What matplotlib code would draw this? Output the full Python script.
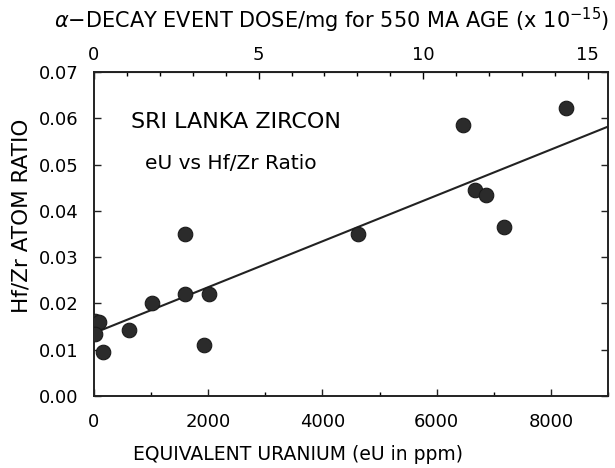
import matplotlib
matplotlib.use("Agg")
import matplotlib.pyplot as plt
from matplotlib.ticker import MultipleLocator

# Data
eU_ppm = [20, 80, 10, 150, 610, 1010, 1590, 1600, 2020, 1930, 4620, 6460, 6670, 6860, 7180, 8260]
hf_zr = [0.0162, 0.0160, 0.0133, 0.0095, 0.0143, 0.0201, 0.0220, 0.0350, 0.0220, 0.0110,
         0.0349, 0.0585, 0.0446, 0.0435, 0.0366, 0.0623]
fit_x = [0, 9000]
fit_y = [0.0136, 0.0582]
x_ticks = [0, 2000, 4000, 6000, 8000]
y_ticks = [0.00, 0.01, 0.02, 0.03, 0.04, 0.05, 0.06, 0.07]
top_ticks = [0, 5, 10, 15]
dose_per_ppm = 15 / 8646.0

plt.rcParams['font.family'] = ['DejaVu Sans']
fig = plt.figure(figsize=(6.15, 4.68), dpi=100)
ax = fig.add_axes([94 / 615, 72 / 468, 514 / 615, 324 / 468])

ax.plot(fit_x, fit_y, color='#222222', lw=1.5, zorder=2)
ax.scatter(eU_ppm, hf_zr, s=110, color='#2b2b2b', edgecolors='#1a1a1a', linewidths=0.8, zorder=3)

ax.set_xlim(0, 9000)
ax.set_ylim(0, 0.07)
ax.set_xticks(x_ticks)
ax.set_yticks(y_ticks)
ax.set_yticklabels([f"{v:.2f}" for v in y_ticks])
ax.xaxis.set_minor_locator(MultipleLocator(1000))
ax.tick_params(axis='both', which='major', direction='in', length=5, width=1, labelsize=13,
               top=False, right=True, color='#222222')
ax.tick_params(axis='x', which='minor', direction='in', length=3, width=1, top=False)
ax.tick_params(axis='x', pad=12)
ax.tick_params(axis='y', pad=11)
for s in ax.spines.values():
    s.set_linewidth(1.4)
    s.set_color('#222222')

sec = ax.secondary_xaxis('top', functions=(lambda x: x * dose_per_ppm, lambda d: d / dose_per_ppm))
sec.set_xticks(top_ticks)
sec.xaxis.set_minor_locator(MultipleLocator(1))
sec.tick_params(axis='x', which='major', direction='in', length=5, width=1, labelsize=13, pad=6)
sec.tick_params(axis='x', which='minor', direction='in', length=3, width=1)

fig.text(332 / 615, 1 - 20 / 468, r'$\alpha$$-$DECAY EVENT DOSE/mg for 550 MA AGE (x 10$^{-15}$)',
         ha='center', va='center', fontsize=15)
fig.text(298 / 615, 1 - 455 / 468, 'EQUIVALENT URANIUM (eU in ppm)', ha='center', va='center', fontsize=13.5)
fig.text(22 / 615, 1 - 216 / 468, 'Hf/Zr ATOM RATIO', ha='center', va='center', rotation=90, fontsize=15.5)

ax.text(0.276, 0.846, 'SRI LANKA ZIRCON', transform=ax.transAxes, ha='center', va='center', fontsize=16)
ax.text(0.266, 0.719, 'eU vs Hf/Zr Ratio', transform=ax.transAxes, ha='center', va='center', fontsize=14.5)

fig.savefig('out.png', dpi=100)
